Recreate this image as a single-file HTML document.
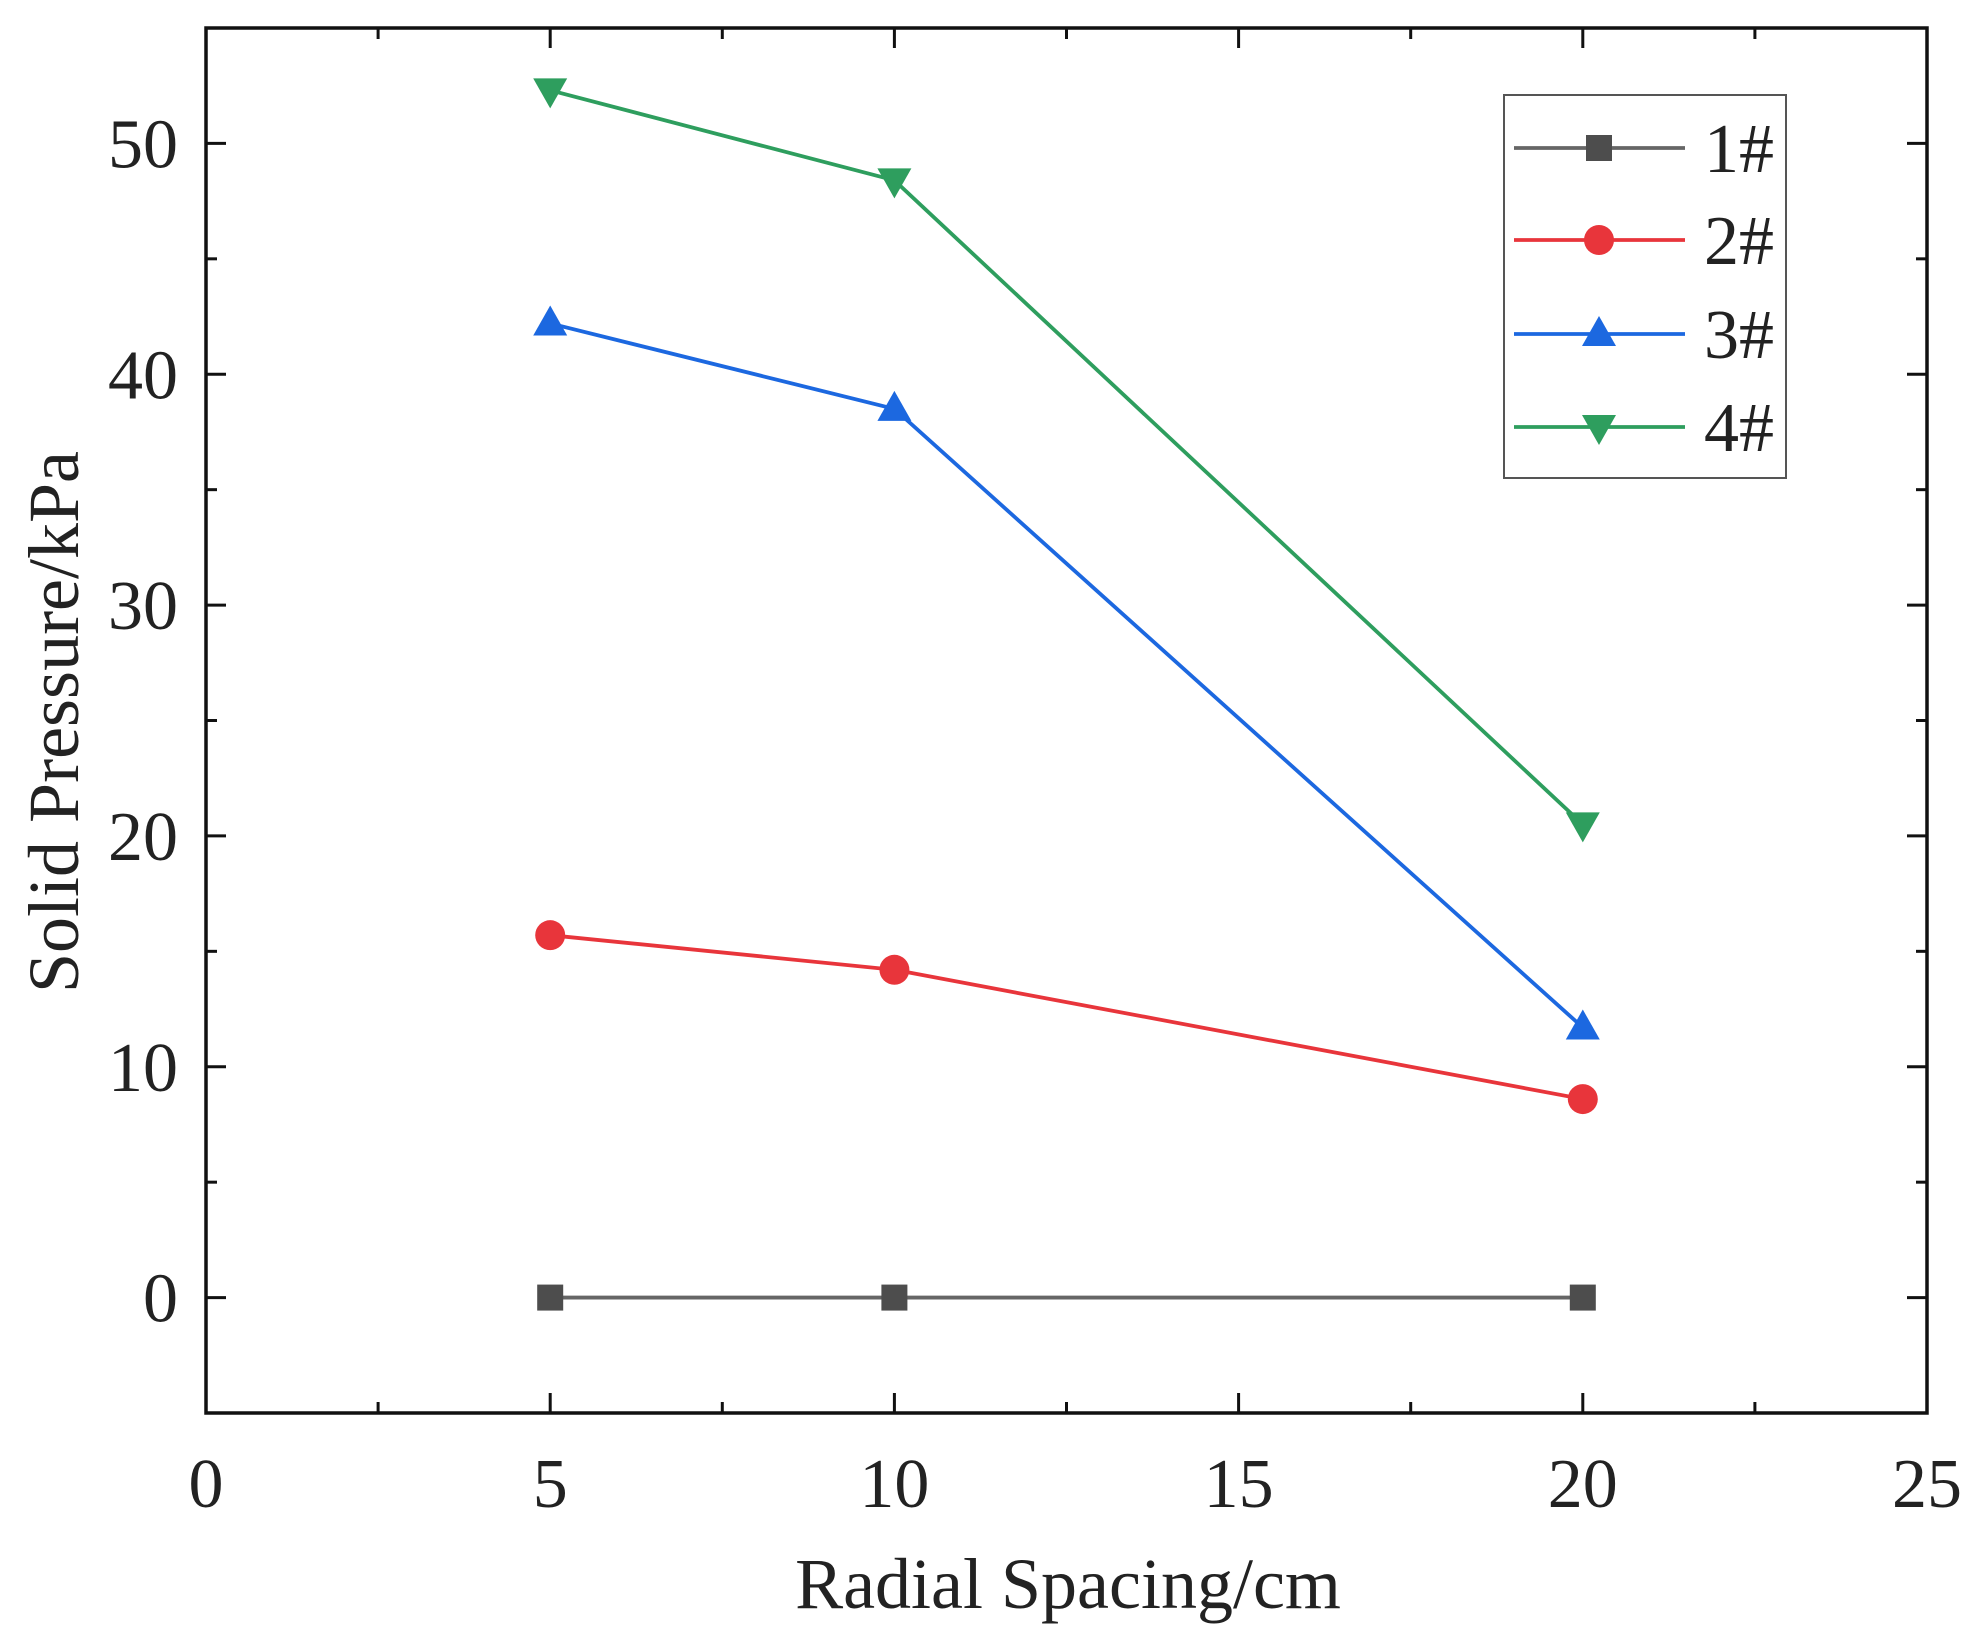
<!DOCTYPE html>
<html><head><meta charset="utf-8"><style>
html,body{margin:0;padding:0;background:#fff;}
svg{display:block;}
text{font-family:"Liberation Serif",serif;fill:#222;}
</style></head><body>
<svg id="chart" width="1982" height="1650" viewBox="0 0 1982 1650" xmlns="http://www.w3.org/2000/svg">
<g id="plot"></g>
</svg>
<script>
const categories = [5, 10, 20];
const seriesNames = ["1#", "2#", "3#", "4#"];
const s1 = [0, 0, 0];
const s2 = [15.7, 14.2, 8.6];
const s3 = [42.2, 38.5, 11.7];
const s4 = [52.3, 48.4, 20.5];
const xTicks = [0, 5, 10, 15, 20, 25];
const yTicks = [0, 10, 20, 30, 40, 50];

const L=206, R=1927, T=28, B=1413;
const xMin=0, xMax=25, yMin=-5, yMax=55;
const xs = v => L + (v - xMin) / (xMax - xMin) * (R - L);
const ys = v => B - (v - yMin) / (yMax - yMin) * (B - T);
const NS = "http://www.w3.org/2000/svg";
const g = document.getElementById('plot');
function mk(tag, attrs, parent){ const e=document.createElementNS(NS,tag); for(const k in attrs) e.setAttribute(k,attrs[k]); (parent||g).appendChild(e); return e; }

const frame = mk('rect',{x:L,y:T,width:R-L,height:B-T,fill:'none',stroke:'#111','stroke-width':3.5});



for(let v=xMin; v<=xMax+0.001; v+=2.5){
  const major = Math.abs(v%5)<0.01; const len = major?20:11; const x=xs(v);
  const t1=mk('line',{x1:x,y1:B,x2:x,y2:B-len,stroke:'#111','stroke-width':3});
  
  
  const t2=mk('line',{x1:x,y1:T,x2:x,y2:T+len,stroke:'#111','stroke-width':3});
  
  
}
xTicks.forEach(v=>{
  const t=mk('text',{x:xs(v),y:1507,'font-size':70,'text-anchor':'middle'}); t.textContent=v;
  
  
});
for(let v=yMin; v<=yMax+0.001; v+=5){
  const major = Math.abs(v%10)<0.01; const len = major?20:11; const y=ys(v);
  const t1=mk('line',{x1:L,y1:y,x2:L+len,y2:y,stroke:'#111','stroke-width':3});
  
  
  const t2=mk('line',{x1:R,y1:y,x2:R-len,y2:y,stroke:'#111','stroke-width':3});
  
  
}
yTicks.forEach(v=>{
  const t=mk('text',{x:178,y:ys(v)+24,'font-size':70,'text-anchor':'end'}); t.textContent=v;
  
  
});
const xt=mk('text',{x:1068,y:1608,'font-size':72,'text-anchor':'middle'}); xt.textContent='Radial Spacing/cm';


const yt=mk('text',{x:0,y:0,'font-size':72,'text-anchor':'middle',transform:'translate(78,722) rotate(-90)'}); yt.textContent='Solid Pressure/kPa';



const colors=['#4d4d4d','#e8353b','#1c68e0','#2e9e5e'];
const shapes=['square','circle','up','down'];
const allSeries=[s1,s2,s3,s4];
function marker(shape,x,y,color,parent){
  let e;
  if(shape==='square') e=mk('rect',{x:x-13,y:y-13,width:26,height:26,fill:color},parent);
  else if(shape==='circle') e=mk('circle',{cx:x,cy:y,r:15,fill:color},parent);
  else if(shape==='up') e=mk('polygon',{points:`${x},${y-18} ${x+17},${y+12} ${x-17},${y+12}`,fill:color},parent);
  else e=mk('polygon',{points:`${x},${y+18} ${x+17},${y-12} ${x-17},${y-12}`,fill:color},parent);
  return e;
}
allSeries.forEach((arr,i)=>{
  const sg=mk('g',{});
  
  
  const pts=arr.map((v,j)=>xs(categories[j])+','+ys(v)).join(' ');
  const pl=mk('polyline',{points:pts,fill:'none',stroke:i===0?'#666':colors[i],'stroke-width':3.8},sg);
  
  
  arr.forEach((v,j)=>{
    const m=marker(shapes[i],xs(categories[j]),ys(v),colors[i],sg);
    
    
  });
});
const lg=mk('g',{});


const lb=mk('rect',{x:1504,y:95,width:282,height:383,fill:'#fff',stroke:'#555','stroke-width':2},lg);


const ly=[148,240,334,427];
seriesNames.forEach((n,i)=>{
  const eg=mk('g',{},lg);
  
  
  mk('line',{x1:1514,y1:ly[i],x2:1685,y2:ly[i],stroke:i===0?'#666':colors[i],'stroke-width':3.8},eg);
  marker(shapes[i],1599,ly[i],colors[i],eg);
  const t=mk('text',{x:1704,y:ly[i]+24,'font-size':70},eg); t.textContent=n;
  
  
});
</script>
</body></html>
